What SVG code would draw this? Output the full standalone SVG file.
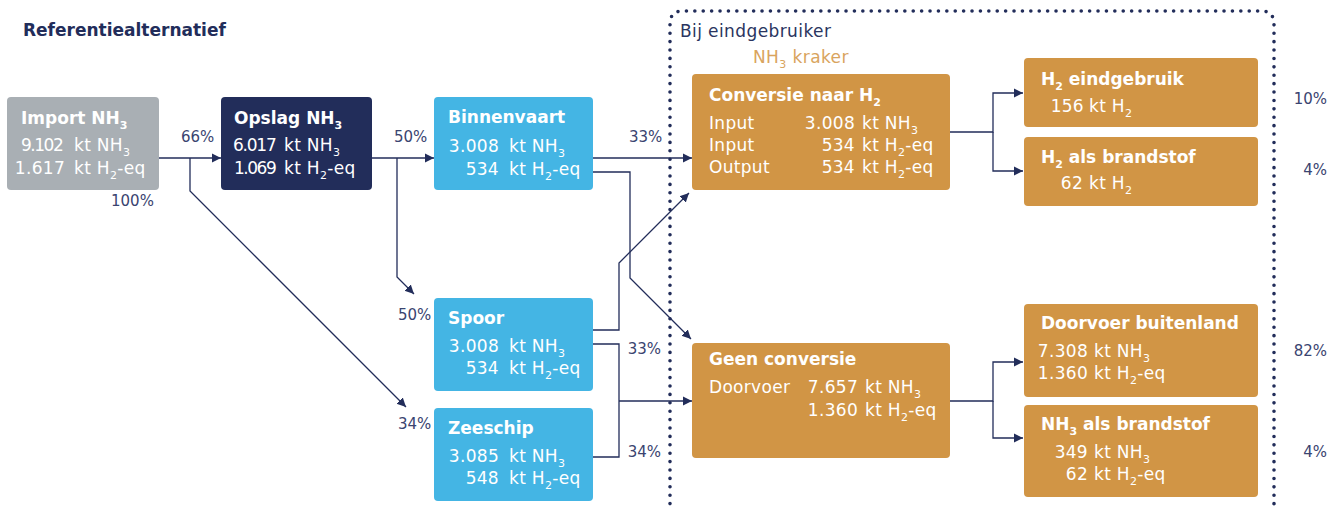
<svg xmlns="http://www.w3.org/2000/svg" width="1341" height="508" viewBox="0 0 1341 508">
<defs>
<marker id="ah" markerUnits="userSpaceOnUse" markerWidth="10" markerHeight="10" refX="9" refY="5" orient="auto">
<path d="M0,0.5 L9,5 L0,9.5 Z" fill="#222d5a"/>
</marker>
<style>
.t{font-family:"DejaVu Sans","Liberation Sans",sans-serif;font-size:17px;font-weight:bold;fill:#fff}
.b{font-family:"DejaVu Sans","Liberation Sans",sans-serif;font-size:17px;fill:#fff;letter-spacing:0.3px}
.e{text-anchor:end}
.p{font-family:"DejaVu Sans","Liberation Sans",sans-serif;font-size:15px;fill:#3a4470}
.s{font-size:11px}
.gray{fill:#a9afb4}
.navy{fill:#222d5a}
.blue{fill:#44b5e4}
.or{fill:#d19545}
.c{fill:none;stroke:#222d5a;stroke-width:1.3}
.a{marker-end:url(#ah)}
</style>
</defs>
<rect width="1341" height="508" fill="#fff"/>
<text x="23" y="36" font-family="DejaVu Sans, Liberation Sans, sans-serif" font-size="17" font-weight="bold" fill="#222d5a">Referentiealternatief</text>
<g id="zone">
<path d="M670,512 V24 Q670,11 683,11 H1261 Q1274,11 1274,24 V512" fill="none" stroke="#222d5a" stroke-width="3.6" stroke-linecap="round" stroke-dasharray="0 8.4"/>
<text x="680" y="37" font-family="DejaVu Sans, Liberation Sans, sans-serif" font-size="17" fill="#2a3560" letter-spacing="0.4">Bij eindgebruiker</text>
<text x="753" y="63" font-family="DejaVu Sans, Liberation Sans, sans-serif" font-size="17" fill="#d9a45e" letter-spacing="0.4">NH<tspan class="s" dy="5">3</tspan><tspan dy="-5"> kraker</tspan></text>
</g>
<g id="connectors">
<path class="c a" d="M159,158 H221"/>
<path class="c a" d="M190,158 V191 L406,407"/>
<path class="c a" d="M372,158 H434"/>
<path class="c a" d="M397,158 V277 L414,294"/>
<path class="c a" d="M593,158 H692"/>
<path class="c a" d="M593,172 H630 V278 L691,339"/>
<path class="c a" d="M593,330 H619 V263 L689,193"/>
<path class="c" d="M593,344 H619 V457 H593"/>
<path class="c a" d="M619,401 H692"/>
<path class="c a" d="M950,132 H993 V93 H1023"/>
<path class="c a" d="M993,132 V171 H1023"/>
<path class="c a" d="M950,401 H993 V362 H1023"/>
<path class="c a" d="M993,401 V438 H1023"/>
</g>
<g id="labels">
<text class="p" x="181" y="142">66%</text>
<text class="p" x="111" y="206">100%</text>
<text class="p" x="394" y="142">50%</text>
<text class="p" x="629" y="142">33%</text>
<text class="p" x="398" y="320">50%</text>
<text class="p" x="398" y="429">34%</text>
<text class="p e" x="661" y="354">33%</text>
<text class="p e" x="661" y="457">34%</text>
<text class="p e" x="1327" y="104">10%</text>
<text class="p e" x="1327" y="175">4%</text>
<text class="p e" x="1327" y="356">82%</text>
<text class="p e" x="1327" y="457">4%</text>
</g>
<g id="import">
<rect class="gray" x="7" y="97" width="152" height="93" rx="4"/>
<text class="t" x="21" y="124">Import NH<tspan class="s" dy="5">3</tspan></text>
<text class="b" x="21" y="151" textLength="43">9.102</text>
<text class="b" x="74" y="151">kt NH<tspan class="s" dy="5">3</tspan></text>
<text class="b e" x="65" y="174">1.617</text>
<text class="b" x="74" y="174">kt H<tspan class="s" dy="5">2</tspan><tspan dy="-5">-eq</tspan></text>
</g>
<g id="opslag">
<rect class="navy" x="221" y="97" width="151" height="93" rx="4"/>
<text class="t" x="234" y="124">Opslag NH<tspan class="s" dy="5">3</tspan></text>
<text class="b" x="233" y="151" textLength="44">6.017</text>
<text class="b" x="284" y="151">kt NH<tspan class="s" dy="5">3</tspan></text>
<text class="b" x="234" y="174" textLength="43">1.069</text>
<text class="b" x="284" y="174">kt H<tspan class="s" dy="5">2</tspan><tspan dy="-5">-eq</tspan></text>
</g>
<g id="binnenvaart">
<rect class="blue" x="434" y="97" width="159" height="93" rx="4"/>
<text class="t" x="448" y="123">Binnenvaart</text>
<text class="b e" x="499" y="152">3.008</text>
<text class="b" x="509" y="152">kt NH<tspan class="s" dy="5">3</tspan></text>
<text class="b e" x="499" y="175">534</text>
<text class="b" x="509" y="175">kt H<tspan class="s" dy="5">2</tspan><tspan dy="-5">-eq</tspan></text>
</g>
<g id="spoor">
<rect class="blue" x="434" y="298" width="159" height="93" rx="4"/>
<text class="t" x="448" y="324">Spoor</text>
<text class="b e" x="499" y="352">3.008</text>
<text class="b" x="509" y="352">kt NH<tspan class="s" dy="5">3</tspan></text>
<text class="b e" x="499" y="374">534</text>
<text class="b" x="509" y="374">kt H<tspan class="s" dy="5">2</tspan><tspan dy="-5">-eq</tspan></text>
</g>
<g id="zeeschip">
<rect class="blue" x="434" y="408" width="159" height="93" rx="4"/>
<text class="t" x="448" y="434">Zeeschip</text>
<text class="b e" x="499" y="462">3.085</text>
<text class="b" x="509" y="462">kt NH<tspan class="s" dy="5">3</tspan></text>
<text class="b e" x="499" y="484">548</text>
<text class="b" x="509" y="484">kt H<tspan class="s" dy="5">2</tspan><tspan dy="-5">-eq</tspan></text>
</g>
<g id="conversie">
<rect class="or" x="692" y="74" width="258" height="116" rx="4"/>
<text class="t" x="709" y="101">Conversie naar H<tspan class="s" dy="5">2</tspan></text>
<text class="b" x="709" y="129">Input</text>
<text class="b" x="709" y="151">Input</text>
<text class="b" x="709" y="173">Output</text>
<text class="b e" x="855" y="129">3.008</text>
<text class="b" x="862" y="129">kt NH<tspan class="s" dy="5">3</tspan></text>
<text class="b e" x="855" y="151">534</text>
<text class="b" x="862" y="151">kt H<tspan class="s" dy="5">2</tspan><tspan dy="-5">-eq</tspan></text>
<text class="b e" x="855" y="173">534</text>
<text class="b" x="862" y="173">kt H<tspan class="s" dy="5">2</tspan><tspan dy="-5">-eq</tspan></text>
</g>
<g id="geen">
<rect class="or" x="692" y="343" width="258" height="115" rx="4"/>
<text class="t" x="709" y="365">Geen conversie</text>
<text class="b" x="709" y="393">Doorvoer</text>
<text class="b e" x="858" y="393">7.657</text>
<text class="b" x="865" y="393">kt NH<tspan class="s" dy="5">3</tspan></text>
<text class="b e" x="858" y="416">1.360</text>
<text class="b" x="865" y="416">kt H<tspan class="s" dy="5">2</tspan><tspan dy="-5">-eq</tspan></text>
</g>
<g id="h2eind">
<rect class="or" x="1024" y="58" width="234" height="69" rx="4"/>
<text class="t" x="1041" y="85">H<tspan class="s" dy="5">2</tspan><tspan dy="-5"> eindgebruik</tspan></text>
<text class="b e" x="1084" y="112">156</text>
<text class="b" x="1089" y="112">kt H<tspan class="s" dy="5">2</tspan></text>
</g>
<g id="h2brand">
<rect class="or" x="1024" y="137" width="234" height="69" rx="4"/>
<text class="t" x="1041" y="163">H<tspan class="s" dy="5">2</tspan><tspan dy="-5"> als brandstof</tspan></text>
<text class="b e" x="1083" y="189">62</text>
<text class="b" x="1089" y="189">kt H<tspan class="s" dy="5">2</tspan></text>
</g>
<g id="doorvoer">
<rect class="or" x="1024" y="304" width="234" height="93" rx="4"/>
<text class="t" x="1041" y="329">Doorvoer buitenland</text>
<text class="b e" x="1088" y="357">7.308</text>
<text class="b" x="1094" y="357">kt NH<tspan class="s" dy="5">3</tspan></text>
<text class="b e" x="1088" y="379">1.360</text>
<text class="b" x="1094" y="379">kt H<tspan class="s" dy="5">2</tspan><tspan dy="-5">-eq</tspan></text>
</g>
<g id="nh3brand">
<rect class="or" x="1024" y="405" width="234" height="92" rx="4"/>
<text class="t" x="1041" y="430">NH<tspan class="s" dy="5">3</tspan><tspan dy="-5"> als brandstof</tspan></text>
<text class="b e" x="1088" y="458">349</text>
<text class="b" x="1094" y="458">kt NH<tspan class="s" dy="5">3</tspan></text>
<text class="b e" x="1088" y="480">62</text>
<text class="b" x="1094" y="480">kt H<tspan class="s" dy="5">2</tspan><tspan dy="-5">-eq</tspan></text>
</g>
</svg>
